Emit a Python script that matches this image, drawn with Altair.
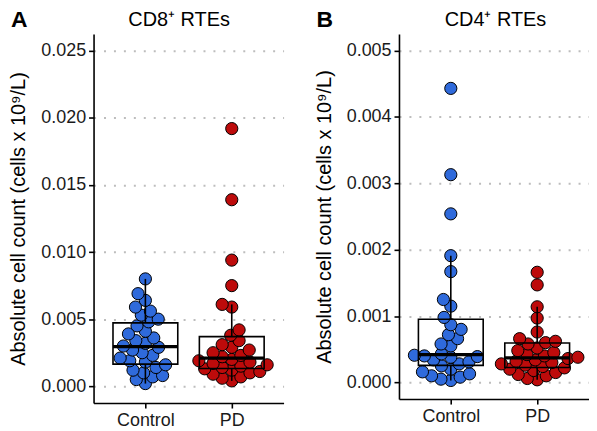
import math
import numpy as np
import pandas as pd
import altair as alt

# ---- data (cells x 10^9/L) ----
groups = ["Control", "PD"]

cd8_control = [0.0002, 0.0005, 0.0007, 0.0008, 0.0010, 0.0012, 0.0014, 0.0016, 0.0018, 0.0019,
               0.0021, 0.0023, 0.0025, 0.0027, 0.0029, 0.0030, 0.0032, 0.0034, 0.0036, 0.0039,
               0.0041, 0.0045, 0.0048, 0.0050, 0.0053, 0.0056, 0.0059, 0.0064, 0.0069, 0.0080]
cd8_pd = [0.0004, 0.0006, 0.0007, 0.0009, 0.0010, 0.0011, 0.0012, 0.0013, 0.0014, 0.0015,
          0.0016, 0.0017, 0.0018, 0.0019, 0.0020, 0.0022, 0.0023, 0.0025, 0.0027, 0.0029,
          0.0031, 0.0034, 0.0038, 0.0042, 0.0059, 0.0061, 0.0075, 0.0094, 0.0139, 0.0192]
cd4_control = [0.00003, 0.00005, 0.00008, 0.00010, 0.00013, 0.00016, 0.00020, 0.00025, 0.00028, 0.00031,
               0.00034, 0.00038, 0.00039, 0.00040, 0.00041, 0.00043, 0.00055, 0.00058, 0.00066, 0.00072,
               0.00080, 0.00087, 0.00098, 0.00115, 0.00125, 0.00167, 0.00191, 0.00254, 0.00313, 0.00443]
cd4_pd = [0.00004, 0.00006, 0.00010, 0.00012, 0.00015, 0.00018, 0.00020, 0.00022, 0.00024, 0.00026,
          0.00028, 0.00030, 0.00032, 0.00034, 0.00036, 0.00038, 0.00040, 0.00042, 0.00045, 0.00048,
          0.00052, 0.00058, 0.00060, 0.00062, 0.00066, 0.00076, 0.00097, 0.00114, 0.00147, 0.00166]

cd8_ticks = [0.0, 0.005, 0.010, 0.015, 0.020, 0.025]
cd4_ticks = [0.0, 0.001, 0.002, 0.003, 0.004, 0.005]

BLUE = "#2F6ADB"
RED = "#BD0B0B"
FONT = "Liberation Sans"
YTITLE = "Absolute cell count (cells x 10\u2079/L)"

PANEL_W = 191
X_DOMAIN = [0.4, 2.6]
STEP_PX = PANEL_W / (X_DOMAIN[1] - X_DOMAIN[0])


def swarm_offsets(values, px_per_unit, diam):
    """Deterministic beeswarm layout (ascending priority), offsets in px."""
    order = np.argsort(values, kind="stable")
    placed = []
    offs = [0.0] * len(values)
    for i in order:
        y = values[i] * px_per_unit
        cands = [0.0]
        for (xj, yj) in placed:
            dy = abs(y - yj)
            if dy < diam:
                dx = math.sqrt(diam * diam - dy * dy)
                cands += [xj + dx, xj - dx]
        cands.sort(key=lambda c: (abs(c), c))
        for c in cands:
            if all((c - xj) ** 2 + (y - yj) ** 2 >= diam * diam - 1e-6 for (xj, yj) in placed):
                break
        placed.append((c, y))
        offs[i] = c
    return offs


def box_stats(vals):
    v = np.array(vals)
    q1, med, q3 = np.percentile(v, [25, 50, 75])
    iqr = q3 - q1
    upper = v[v <= q3 + 1.5 * iqr].max()
    lower = v[v >= q1 - 1.5 * iqr].min()
    return q1, med, q3, lower, upper


def panel(title, letter, ctrl, pd_vals, domain, ticks, height, title_x):
    px_per_unit = height / (domain[1] - domain[0])
    rows = []
    stats = []
    for gi, (g, vals) in enumerate(zip(groups, [ctrl, pd_vals])):
        offs = swarm_offsets(vals, px_per_unit, 10.0)
        for v, o in zip(vals, offs):
            rows.append({"group": g, "pos": gi + 1 + o / STEP_PX, "value": v})
        q1, med, q3, lo, hi = box_stats(vals)
        stats.append({"group": g, "c": gi + 1, "l": gi + 1 - 0.375, "r": gi + 1 + 0.375,
                      "q1": q1, "med": med, "q3": q3, "lo": lo, "hi": hi})
    pts = pd.DataFrame(rows)
    st = pd.DataFrame(stats)

    xs = alt.Scale(domain=X_DOMAIN, nice=False, zero=False)
    ys = alt.Scale(domain=domain, nice=False, zero=False)
    xaxis = alt.Axis(values=[1, 2], labelExpr="datum.value == 1 ? 'Control' : 'PD'",
                     title=None, grid=False, labelPadding=4)
    yaxis = alt.Axis(values=ticks, format=".3f", title=YTITLE, grid=True,
                     titlePadding=12)

    points = alt.Chart(pts).mark_circle(size=150, opacity=1, stroke="black", strokeWidth=1).encode(
        x=alt.X("pos:Q", scale=xs, axis=xaxis),
        y=alt.Y("value:Q", scale=ys, axis=yaxis),
        fill=alt.Fill("group:N", scale=alt.Scale(domain=groups, range=[BLUE, RED]), legend=None),
    )
    box = alt.Chart(st).mark_rect(fillOpacity=0, stroke="black", strokeWidth=1.6).encode(
        x="l:Q", x2="r:Q", y="q1:Q", y2="q3:Q")
    median = alt.Chart(st).mark_rule(color="black", strokeWidth=3.2).encode(
        x="l:Q", x2="r:Q", y="med:Q")
    whisk_hi = alt.Chart(st).mark_rule(color="black", strokeWidth=1.6).encode(
        x="c:Q", y="q3:Q", y2="hi:Q")
    whisk_lo = alt.Chart(st).mark_rule(color="black", strokeWidth=1.6).encode(
        x="c:Q", y="q1:Q", y2="lo:Q")
    tag = alt.Chart(pd.DataFrame({"t": [letter]})).mark_text(
        font=FONT, fontSize=23, fontWeight="bold", align="left", baseline="top", color="black"
    ).encode(text="t:N", x=alt.value(-83), y=alt.value(-25))
    ttl = alt.Chart(pd.DataFrame({"t": [title]})).mark_text(
        font=FONT, fontSize=20, align="center", baseline="top", color="black"
    ).encode(text="t:N", x=alt.value(title_x), y=alt.value(-24))

    return alt.layer(points, box, median, whisk_hi, whisk_lo, tag, ttl).properties(
        width=PANEL_W, height=height,
    )


a = panel("CD8\u207A RTEs", "A", cd8_control, cd8_pd, [-0.00125, 0.02625], cd8_ticks, 371, 86)
b = panel("CD4\u207A RTEs", "B", cd4_control, cd4_pd, [-0.00025, 0.00525], cd4_ticks, 367, 97)

chart = alt.hconcat(a, b, spacing=30).properties(padding=0).configure_view(stroke=None).configure_axis(
    domainColor="black", domainWidth=1.6, tickColor="black", tickWidth=1.6, tickSize=5,
    labelFont=FONT, labelFontSize=18, labelColor="#1a1a1a", titleFont=FONT, titleFontSize=20,
    titleFontWeight="normal", titleColor="black", gridColor="#BDBDBD", gridDash=[2, 8], gridWidth=2,
    labelPadding=3,
)

chart.save("out.html", embed_options={"renderer": "svg", "actions": False})
